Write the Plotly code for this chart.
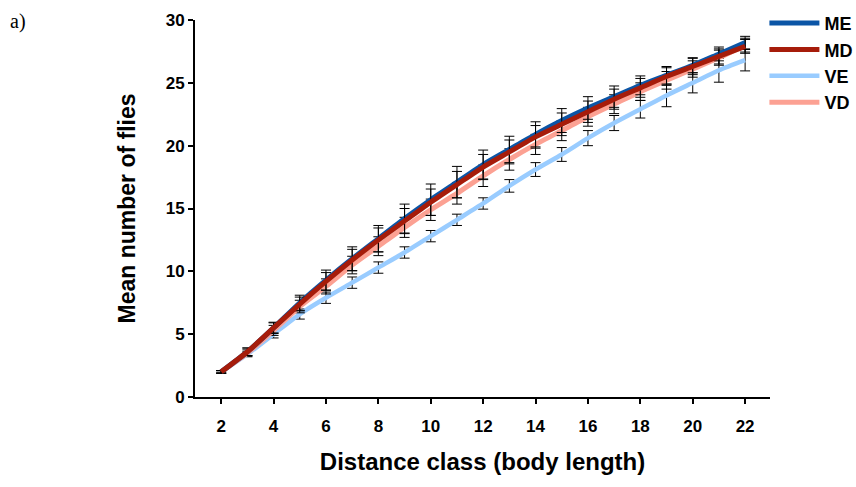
import plotly.graph_objects as go

distance = list(range(2, 23))
me = [2.0, 3.6, 5.5, 7.5, 9.3, 11.0, 12.6, 14.2, 15.7, 17.1, 18.5, 19.7, 20.9, 22.0, 23.0, 23.9, 24.8, 25.6, 26.4, 27.3, 28.2]
md = [2.0, 3.6, 5.5, 7.4, 9.2, 10.9, 12.5, 14.0, 15.5, 16.9, 18.3, 19.5, 20.7, 21.7, 22.7, 23.7, 24.6, 25.5, 26.3, 27.1, 27.9]
ve = [2.0, 3.4, 5.0, 6.6, 7.9, 9.1, 10.3, 11.5, 12.8, 14.1, 15.4, 16.8, 18.1, 19.3, 20.6, 21.8, 22.9, 24.0, 25.0, 26.0, 26.8]
vd = [2.0, 3.5, 5.3, 7.2, 8.8, 10.5, 12.0, 13.5, 14.9, 16.2, 17.6, 18.9, 20.1, 21.2, 22.3, 23.3, 24.3, 25.2, 26.1, 27.0, 28.0]

me_err = [0.1, 0.3, 0.45, 0.6, 0.8, 0.95, 1.05, 1.15, 1.25, 1.25, 1.15, 1.05, 1.0, 0.95, 0.9, 0.85, 0.75, 0.7, 0.6, 0.55, 0.5]
md_err = [0.1, 0.3, 0.4, 0.55, 0.7, 0.85, 0.95, 1.0, 1.05, 1.05, 1.0, 0.95, 0.9, 0.9, 0.85, 0.8, 0.75, 0.7, 0.65, 0.6, 0.55]
ve_err = [0.1, 0.2, 0.3, 0.4, 0.45, 0.45, 0.45, 0.45, 0.45, 0.45, 0.45, 0.5, 0.55, 0.55, 0.6, 0.6, 0.7, 0.9, 0.8, 0.95, 0.85]
vd_err = [0.1, 0.25, 0.4, 0.5, 0.6, 0.7, 0.75, 0.8, 0.85, 0.85, 0.85, 0.85, 0.8, 0.8, 0.75, 0.75, 0.7, 0.7, 0.65, 0.6, 0.55]

series = [
    ("VE", ve, ve_err, "#99ccff", 4.5, 3),
    ("VD", vd, vd_err, "#fca193", 5, 4),
    ("ME", me, me_err, "#0b55a6", 5, 1),
    ("MD", md, md_err, "#a61c0a", 5, 2),
]

fig = go.Figure()
for name, vals, err, color, w, rank in series:
    fig.add_trace(go.Scatter(
        x=distance, y=vals, name=name, mode="lines",
        line=dict(color=color, width=w, shape="spline", smoothing=0.6),
        error_y=dict(type="data", array=err, visible=True, color="black", thickness=1, width=5),
        legendrank=rank, legendgroup=name,
    ))

fig.update_layout(
    width=856, height=487,
    margin=dict(l=195, r=86, t=20, b=90, autoexpand=False),
    plot_bgcolor="white", paper_bgcolor="white",
    font=dict(family="Liberation Sans", color="black"),
    showlegend=True,
    legend=dict(xref="container", yref="container", x=0.893, y=0.99,
                xanchor="left", yanchor="top", itemwidth=50,
                font=dict(family="Liberation Sans", size=18, color="black", weight="bold"),
                tracegroupgap=0, bgcolor="rgba(0,0,0,0)"),
    xaxis=dict(range=[1.0, 22.95], tickmode="array", tickvals=list(range(2, 23, 2)),
               showline=True, linecolor="black", linewidth=2, showgrid=False, zeroline=False,
               ticks="outside", ticklen=5, tickwidth=2, tickcolor="black",
               tickfont=dict(family="Liberation Sans", size=17, color="black", weight="bold"),
               ticklabelstandoff=8,
               title=dict(text="Distance class (body length)", standoff=18,
                          font=dict(family="Liberation Sans", size=24, color="black", weight="bold"))),
    yaxis=dict(range=[0, 30], tickvals=[0, 5, 10, 15, 20, 25, 30],
               showline=True, linecolor="black", linewidth=2, showgrid=False, zeroline=False,
               ticks="outside", ticklen=5, tickwidth=2, tickcolor="black",
               tickfont=dict(family="Liberation Sans", size=17, color="black", weight="bold"),
               title=dict(text="Mean number of flies", standoff=24,
                          font=dict(family="Liberation Sans", size=23, color="black", weight="bold"))),
)
fig.add_annotation(text="a)", xref="paper", yref="paper", x=-0.325, y=0.995,
                   xanchor="left", yanchor="middle", showarrow=False,
                   font=dict(family="Liberation Serif", size=20, color="black"))
fig.write_html("out.html")
